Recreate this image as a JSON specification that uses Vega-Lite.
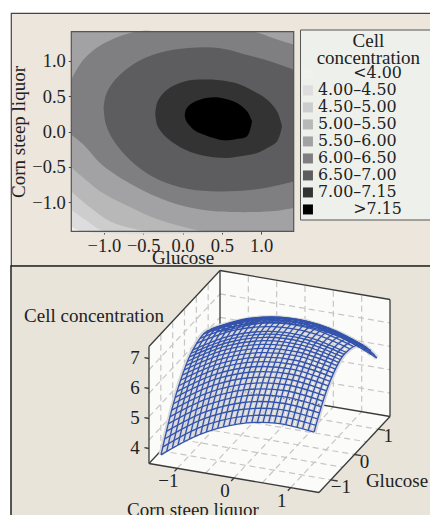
{"$schema":"https://vega.github.io/schema/vega-lite/v6.json","background":"white","padding":{"left":9,"top":12,"right":0,"bottom":0},"autosize":{"type":"pad"},"spacing":0,"bounds":"flush","config":{"font":"Liberation Serif","text":{"font":"Liberation Serif","color":"#222"},"axis":{"labelColor":"#222","titleColor":"#222","labelFont":"Liberation Serif","titleFont":"Liberation Serif"},"legend":{"labelColor":"#222","titleColor":"#222"}},
"datasets":{
"walls":[
{"wall":"left","c":-1.5,"g":-1.5,"z":3.5,"c2":-1.5,"g2":-1.5,"z2":7.4},{"wall":"left","c":-1.5,"g":1.5,"z":3.5,"c2":-1.5,"g2":1.5,"z2":7.4},
{"wall":"back","c":-1.5,"g":1.5,"z":3.5,"c2":-1.5,"g2":1.5,"z2":7.4},{"wall":"back","c":1.5,"g":1.5,"z":3.5,"c2":1.5,"g2":1.5,"z2":7.4},
{"wall":"floor","c":-1.5,"g":-1.5,"z":3.5,"c2":-1.5,"g2":-1.5,"z2":3.5},{"wall":"floor","c":-0.25,"g":-1.5,"z":3.5,"c2":-1.5,"g2":1.5,"z2":3.5},{"wall":"floor","c":1.5,"g":-1.5,"z":3.5,"c2":0.25,"g2":1.5,"z2":3.5},{"wall":"floor","c":1.5,"g":1.5,"z":3.5,"c2":1.5,"g2":1.5,"z2":3.5}],
"grid":[
{"c":-1.5,"g":-1,"z":3.5,"c2":-1.5,"g2":-1,"z2":7.4},{"c":-1.5,"g":-0.5,"z":3.5,"c2":-1.5,"g2":-0.5,"z2":7.4},{"c":-1.5,"g":0,"z":3.5,"c2":-1.5,"g2":0,"z2":7.4},{"c":-1.5,"g":0.5,"z":3.5,"c2":-1.5,"g2":0.5,"z2":7.4},{"c":-1.5,"g":1,"z":3.5,"c2":-1.5,"g2":1,"z2":7.4},
{"c":-1.5,"g":-1.5,"z":4.28,"c2":-1.5,"g2":1.5,"z2":4.28},{"c":-1.5,"g":-1.5,"z":5.06,"c2":-1.5,"g2":1.5,"z2":5.06},{"c":-1.5,"g":-1.5,"z":5.84,"c2":-1.5,"g2":1.5,"z2":5.84},{"c":-1.5,"g":-1.5,"z":6.62,"c2":-1.5,"g2":1.5,"z2":6.62},
{"c":-1,"g":1.5,"z":3.5,"c2":-1,"g2":1.5,"z2":7.4},{"c":-0.5,"g":1.5,"z":3.5,"c2":-0.5,"g2":1.5,"z2":7.4},{"c":0,"g":1.5,"z":3.5,"c2":0,"g2":1.5,"z2":7.4},{"c":0.5,"g":1.5,"z":3.5,"c2":0.5,"g2":1.5,"z2":7.4},{"c":1,"g":1.5,"z":3.5,"c2":1,"g2":1.5,"z2":7.4},
{"c":-1.5,"g":1.5,"z":4.28,"c2":1.5,"g2":1.5,"z2":4.28},{"c":-1.5,"g":1.5,"z":5.06,"c2":1.5,"g2":1.5,"z2":5.06},{"c":-1.5,"g":1.5,"z":5.84,"c2":1.5,"g2":1.5,"z2":5.84},{"c":-1.5,"g":1.5,"z":6.62,"c2":1.5,"g2":1.5,"z2":6.62},
{"c":-1,"g":-1.5,"z":3.5,"c2":-1,"g2":1.5,"z2":3.5},{"c":-0.5,"g":-1.5,"z":3.5,"c2":-0.5,"g2":1.5,"z2":3.5},{"c":0,"g":-1.5,"z":3.5,"c2":0,"g2":1.5,"z2":3.5},{"c":0.5,"g":-1.5,"z":3.5,"c2":0.5,"g2":1.5,"z2":3.5},{"c":1,"g":-1.5,"z":3.5,"c2":1,"g2":1.5,"z2":3.5},
{"c":-1.5,"g":-1,"z":3.5,"c2":1.5,"g2":-1,"z2":3.5},{"c":-1.5,"g":-0.5,"z":3.5,"c2":1.5,"g2":-0.5,"z2":3.5},{"c":-1.5,"g":0,"z":3.5,"c2":1.5,"g2":0,"z2":3.5},{"c":-1.5,"g":0.5,"z":3.5,"c2":1.5,"g2":0.5,"z2":3.5},{"c":-1.5,"g":1,"z":3.5,"c2":1.5,"g2":1,"z2":3.5}],
"box":[
{"c":-1.5,"g":1.5,"z":3.5,"c2":-1.5,"g2":1.5,"z2":7.4},{"c":1.5,"g":1.5,"z":3.5,"c2":1.5,"g2":1.5,"z2":7.4},{"c":-1.5,"g":-1.5,"z":3.5,"c2":-1.5,"g2":-1.5,"z2":7.4},
{"c":-1.5,"g":1.5,"z":3.5,"c2":1.5,"g2":1.5,"z2":3.5},{"c":-1.5,"g":1.5,"z":7.4,"c2":1.5,"g2":1.5,"z2":7.4},{"c":-1.5,"g":-1.5,"z":7.4,"c2":-1.5,"g2":1.5,"z2":7.4},{"c":-1.5,"g":-1.5,"z":3.5,"c2":-1.5,"g2":1.5,"z2":3.5},
{"c":-1.5,"g":-1.5,"z":3.5,"c2":1.5,"g2":-1.5,"z2":3.5},{"c":1.5,"g":-1.5,"z":3.5,"c2":1.5,"g2":1.5,"z2":3.5},
{"c":-1.5,"g":-1.5,"z":4,"c2":-1.58,"g2":-1.5,"z2":4},{"c":-1.5,"g":-1.5,"z":5,"c2":-1.58,"g2":-1.5,"z2":5},{"c":-1.5,"g":-1.5,"z":6,"c2":-1.58,"g2":-1.5,"z2":6},{"c":-1.5,"g":-1.5,"z":7,"c2":-1.58,"g2":-1.5,"z2":7},
{"c":-1,"g":-1.5,"z":3.5,"c2":-1,"g2":-1.62,"z2":3.5},{"c":0,"g":-1.5,"z":3.5,"c2":0,"g2":-1.62,"z2":3.5},{"c":1,"g":-1.5,"z":3.5,"c2":1,"g2":-1.62,"z2":3.5},
{"c":1.5,"g":-1,"z":3.5,"c2":1.62,"g2":-1,"z2":3.5},{"c":1.5,"g":0,"z":3.5,"c2":1.62,"g2":0,"z2":3.5},{"c":1.5,"g":1,"z":3.5,"c2":1.62,"g2":1,"z2":3.5}],
"mesh":[
{"line":"g0","c":-1.35,"g":-1.35,"z":3.71},{"line":"g0","c":-0.675,"g":-1.35,"z":4.6},{"line":"g0","c":0,"g":-1.35,"z":5.17},{"line":"g0","c":0.675,"g":-1.35,"z":5.42},{"line":"g0","c":1.35,"g":-1.35,"z":5.34},
{"line":"h0","c":-1.35,"g":-1.275,"z":3.91},{"line":"h0","c":-0.675,"g":-1.275,"z":4.8},{"line":"h0","c":0,"g":-1.275,"z":5.35},{"line":"h0","c":0.675,"g":-1.275,"z":5.59},{"line":"h0","c":1.35,"g":-1.275,"z":5.5},
{"line":"g1","c":-1.35,"g":-1.2,"z":4.11},{"line":"g1","c":-0.675,"g":-1.2,"z":4.99},{"line":"g1","c":0,"g":-1.2,"z":5.53},{"line":"g1","c":0.675,"g":-1.2,"z":5.75},{"line":"g1","c":1.35,"g":-1.2,"z":5.65},
{"line":"h1","c":-1.35,"g":-1.125,"z":4.3},{"line":"h1","c":-0.675,"g":-1.125,"z":5.16},{"line":"h1","c":0,"g":-1.125,"z":5.7},{"line":"h1","c":0.675,"g":-1.125,"z":5.9},{"line":"h1","c":1.35,"g":-1.125,"z":5.79},
{"line":"g2","c":-1.35,"g":-1.05,"z":4.49},{"line":"g2","c":-0.675,"g":-1.05,"z":5.33},{"line":"g2","c":0,"g":-1.05,"z":5.86},{"line":"g2","c":0.675,"g":-1.05,"z":6.05},{"line":"g2","c":1.35,"g":-1.05,"z":5.93},
{"line":"h2","c":-1.35,"g":-0.975,"z":4.66},{"line":"h2","c":-0.675,"g":-0.975,"z":5.49},{"line":"h2","c":0,"g":-0.975,"z":6},{"line":"h2","c":0.675,"g":-0.975,"z":6.19},{"line":"h2","c":1.35,"g":-0.975,"z":6.05},
{"line":"g3","c":-1.35,"g":-0.9,"z":4.82},{"line":"g3","c":-0.675,"g":-0.9,"z":5.64},{"line":"g3","c":0,"g":-0.9,"z":6.14},{"line":"g3","c":0.675,"g":-0.9,"z":6.32},{"line":"g3","c":1.35,"g":-0.9,"z":6.17},
{"line":"h3","c":-1.35,"g":-0.825,"z":4.97},{"line":"h3","c":-0.675,"g":-0.825,"z":5.78},{"line":"h3","c":0,"g":-0.825,"z":6.27},{"line":"h3","c":0.675,"g":-0.825,"z":6.44},{"line":"h3","c":1.35,"g":-0.825,"z":6.27},
{"line":"g4","c":-1.35,"g":-0.75,"z":5.12},{"line":"g4","c":-0.675,"g":-0.75,"z":5.92},{"line":"g4","c":0,"g":-0.75,"z":6.4},{"line":"g4","c":0.675,"g":-0.75,"z":6.55},{"line":"g4","c":1.35,"g":-0.75,"z":6.37},
{"line":"h4","c":-1.35,"g":-0.675,"z":5.25},{"line":"h4","c":-0.675,"g":-0.675,"z":6.04},{"line":"h4","c":0,"g":-0.675,"z":6.51},{"line":"h4","c":0.675,"g":-0.675,"z":6.65},{"line":"h4","c":1.35,"g":-0.675,"z":6.46},
{"line":"g5","c":-1.35,"g":-0.6,"z":5.38},{"line":"g5","c":-0.675,"g":-0.6,"z":6.16},{"line":"g5","c":0,"g":-0.6,"z":6.61},{"line":"g5","c":0.675,"g":-0.6,"z":6.74},{"line":"g5","c":1.35,"g":-0.6,"z":6.54},
{"line":"h5","c":-1.35,"g":-0.525,"z":5.5},{"line":"h5","c":-0.675,"g":-0.525,"z":6.26},{"line":"h5","c":0,"g":-0.525,"z":6.7},{"line":"h5","c":0.675,"g":-0.525,"z":6.82},{"line":"h5","c":1.35,"g":-0.525,"z":6.61},
{"line":"g6","c":-1.35,"g":-0.45,"z":5.61},{"line":"g6","c":-0.675,"g":-0.45,"z":6.36},{"line":"g6","c":0,"g":-0.45,"z":6.79},{"line":"g6","c":0.675,"g":-0.45,"z":6.9},{"line":"g6","c":1.35,"g":-0.45,"z":6.68},
{"line":"h6","c":-1.35,"g":-0.375,"z":5.71},{"line":"h6","c":-0.675,"g":-0.375,"z":6.45},{"line":"h6","c":0,"g":-0.375,"z":6.87},{"line":"h6","c":0.675,"g":-0.375,"z":6.96},{"line":"h6","c":1.35,"g":-0.375,"z":6.73},
{"line":"g7","c":-1.35,"g":-0.3,"z":5.8},{"line":"g7","c":-0.675,"g":-0.3,"z":6.53},{"line":"g7","c":0,"g":-0.3,"z":6.94},{"line":"g7","c":0.675,"g":-0.3,"z":7.02},{"line":"g7","c":1.35,"g":-0.3,"z":6.77},
{"line":"h7","c":-1.35,"g":-0.225,"z":5.88},{"line":"h7","c":-0.675,"g":-0.225,"z":6.6},{"line":"h7","c":0,"g":-0.225,"z":7},{"line":"h7","c":0.675,"g":-0.225,"z":7.06},{"line":"h7","c":1.35,"g":-0.225,"z":6.8},
{"line":"g8","c":-1.35,"g":-0.15,"z":5.96},{"line":"g8","c":-0.675,"g":-0.15,"z":6.66},{"line":"g8","c":0,"g":-0.15,"z":7.05},{"line":"g8","c":0.675,"g":-0.15,"z":7.1},{"line":"g8","c":1.35,"g":-0.15,"z":6.83},
{"line":"h8","c":-1.35,"g":-0.075,"z":6.02},{"line":"h8","c":-0.675,"g":-0.075,"z":6.71},{"line":"h8","c":0,"g":-0.075,"z":7.09},{"line":"h8","c":0.675,"g":-0.075,"z":7.13},{"line":"h8","c":1.35,"g":-0.075,"z":6.85},
{"line":"g9","c":-1.35,"g":0,"z":6.07},{"line":"g9","c":-0.675,"g":0,"z":6.76},{"line":"g9","c":0,"g":0,"z":7.12},{"line":"g9","c":0.675,"g":0,"z":7.15},{"line":"g9","c":1.35,"g":0,"z":6.86},
{"line":"g10","c":-1.35,"g":0.15,"z":6.16},{"line":"g10","c":-0.675,"g":0.15,"z":6.82},{"line":"g10","c":0,"g":0.15,"z":7.15},{"line":"g10","c":0.675,"g":0.15,"z":7.16},{"line":"g10","c":1.35,"g":0.15,"z":6.85},
{"line":"g11","c":-1.35,"g":0.3,"z":6.2},{"line":"g11","c":-0.675,"g":0.3,"z":6.84},{"line":"g11","c":0,"g":0.3,"z":7.15},{"line":"g11","c":0.675,"g":0.3,"z":7.14},{"line":"g11","c":1.35,"g":0.3,"z":6.8},
{"line":"g12","c":-1.35,"g":0.45,"z":6.22},{"line":"g12","c":-0.675,"g":0.45,"z":6.83},{"line":"g12","c":0,"g":0.45,"z":7.12},{"line":"g12","c":0.675,"g":0.45,"z":7.08},{"line":"g12","c":1.35,"g":0.45,"z":6.72},
{"line":"g13","c":-1.35,"g":0.6,"z":6.19},{"line":"g13","c":-0.675,"g":0.6,"z":6.78},{"line":"g13","c":0,"g":0.6,"z":7.05},{"line":"g13","c":0.675,"g":0.6,"z":6.99},{"line":"g13","c":1.35,"g":0.6,"z":6.6},
{"line":"g14","c":-1.35,"g":0.75,"z":6.13},{"line":"g14","c":-0.675,"g":0.75,"z":6.7},{"line":"g14","c":0,"g":0.75,"z":6.94},{"line":"g14","c":0.675,"g":0.75,"z":6.85},{"line":"g14","c":1.35,"g":0.75,"z":6.45},
{"line":"g15","c":-1.35,"g":0.9,"z":6.03},{"line":"g15","c":-0.675,"g":0.9,"z":6.58},{"line":"g15","c":0,"g":0.9,"z":6.79},{"line":"g15","c":0.675,"g":0.9,"z":6.69},{"line":"g15","c":1.35,"g":0.9,"z":6.25},
{"line":"g16","c":-1.35,"g":1.05,"z":5.9},{"line":"g16","c":-0.675,"g":1.05,"z":6.42},{"line":"g16","c":0,"g":1.05,"z":6.62},{"line":"g16","c":0.675,"g":1.05,"z":6.48},{"line":"g16","c":1.35,"g":1.05,"z":6.03},
{"line":"g17","c":-1.35,"g":1.2,"z":5.73},{"line":"g17","c":-0.675,"g":1.2,"z":6.23},{"line":"g17","c":0,"g":1.2,"z":6.4},{"line":"g17","c":0.675,"g":1.2,"z":6.24},{"line":"g17","c":1.35,"g":1.2,"z":5.76},
{"line":"g18","c":-1.35,"g":1.3,"z":5.6},{"line":"g18","c":-0.675,"g":1.3,"z":6.08},{"line":"g18","c":0,"g":1.3,"z":6.23},{"line":"g18","c":0.675,"g":1.3,"z":6.07},{"line":"g18","c":1.35,"g":1.3,"z":5.57},
{"line":"c0","c":-1.35,"g":-1.35,"z":3.71},{"line":"c0","c":-1.35,"g":-0.7,"z":5.21},{"line":"c0","c":-1.35,"g":-0.05,"z":6.04},{"line":"c0","c":-1.35,"g":0.6,"z":6.19},{"line":"c0","c":-1.35,"g":1.3,"z":5.6},
{"line":"c1","c":-1.25,"g":-1.35,"z":3.86},{"line":"c1","c":-1.25,"g":-0.7,"z":5.35},{"line":"c1","c":-1.25,"g":-0.05,"z":6.16},{"line":"c1","c":-1.25,"g":0.6,"z":6.3},{"line":"c1","c":-1.25,"g":1.3,"z":5.69},
{"line":"c2","c":-1.15,"g":-1.35,"z":4.01},{"line":"c2","c":-1.15,"g":-0.7,"z":5.48},{"line":"c2","c":-1.15,"g":-0.05,"z":6.28},{"line":"c2","c":-1.15,"g":0.6,"z":6.4},{"line":"c2","c":-1.15,"g":1.3,"z":5.78},
{"line":"c3","c":-1.05,"g":-1.35,"z":4.14},{"line":"c3","c":-1.05,"g":-0.7,"z":5.6},{"line":"c3","c":-1.05,"g":-0.05,"z":6.39},{"line":"c3","c":-1.05,"g":0.6,"z":6.49},{"line":"c3","c":-1.05,"g":1.3,"z":5.85},
{"line":"c4","c":-0.95,"g":-1.35,"z":4.28},{"line":"c4","c":-0.95,"g":-0.7,"z":5.72},{"line":"c4","c":-0.95,"g":-0.05,"z":6.49},{"line":"c4","c":-0.95,"g":0.6,"z":6.58},{"line":"c4","c":-0.95,"g":1.3,"z":5.92},
{"line":"c5","c":-0.85,"g":-1.35,"z":4.4},{"line":"c5","c":-0.85,"g":-0.7,"z":5.83},{"line":"c5","c":-0.85,"g":-0.05,"z":6.58},{"line":"c5","c":-0.85,"g":0.6,"z":6.66},{"line":"c5","c":-0.85,"g":1.3,"z":5.99},
{"line":"c6","c":-0.75,"g":-1.35,"z":4.52},{"line":"c6","c":-0.75,"g":-0.7,"z":5.93},{"line":"c6","c":-0.75,"g":-0.05,"z":6.67},{"line":"c6","c":-0.75,"g":0.6,"z":6.73},{"line":"c6","c":-0.75,"g":1.3,"z":6.04},
{"line":"c7","c":-0.65,"g":-1.35,"z":4.63},{"line":"c7","c":-0.65,"g":-0.7,"z":6.03},{"line":"c7","c":-0.65,"g":-0.05,"z":6.75},{"line":"c7","c":-0.65,"g":0.6,"z":6.8},{"line":"c7","c":-0.65,"g":1.3,"z":6.09},
{"line":"c8","c":-0.55,"g":-1.35,"z":4.73},{"line":"c8","c":-0.55,"g":-0.7,"z":6.12},{"line":"c8","c":-0.55,"g":-0.05,"z":6.82},{"line":"c8","c":-0.55,"g":0.6,"z":6.86},{"line":"c8","c":-0.55,"g":1.3,"z":6.13},
{"line":"c9","c":-0.45,"g":-1.35,"z":4.83},{"line":"c9","c":-0.45,"g":-0.7,"z":6.2},{"line":"c9","c":-0.45,"g":-0.05,"z":6.89},{"line":"c9","c":-0.45,"g":0.6,"z":6.91},{"line":"c9","c":-0.45,"g":1.3,"z":6.17},
{"line":"c10","c":-0.35,"g":-1.35,"z":4.92},{"line":"c10","c":-0.35,"g":-0.7,"z":6.27},{"line":"c10","c":-0.35,"g":-0.05,"z":6.95},{"line":"c10","c":-0.35,"g":0.6,"z":6.95},{"line":"c10","c":-0.35,"g":1.3,"z":6.2},
{"line":"c11","c":-0.25,"g":-1.35,"z":5},{"line":"c11","c":-0.25,"g":-0.7,"z":6.34},{"line":"c11","c":-0.25,"g":-0.05,"z":7},{"line":"c11","c":-0.25,"g":0.6,"z":6.99},{"line":"c11","c":-0.25,"g":1.3,"z":6.22},
{"line":"c12","c":-0.15,"g":-1.35,"z":5.07},{"line":"c12","c":-0.15,"g":-0.7,"z":6.4},{"line":"c12","c":-0.15,"g":-0.05,"z":7.05},{"line":"c12","c":-0.15,"g":0.6,"z":7.02},{"line":"c12","c":-0.15,"g":1.3,"z":6.23},
{"line":"c13","c":-0.05,"g":-1.35,"z":5.14},{"line":"c13","c":-0.05,"g":-0.7,"z":6.45},{"line":"c13","c":-0.05,"g":-0.05,"z":7.08},{"line":"c13","c":-0.05,"g":0.6,"z":7.04},{"line":"c13","c":-0.05,"g":1.3,"z":6.23},
{"line":"c14","c":0.05,"g":-1.35,"z":5.2},{"line":"c14","c":0.05,"g":-0.7,"z":6.5},{"line":"c14","c":0.05,"g":-0.05,"z":7.11},{"line":"c14","c":0.05,"g":0.6,"z":7.05},{"line":"c14","c":0.05,"g":1.3,"z":6.23},
{"line":"c15","c":0.15,"g":-1.35,"z":5.26},{"line":"c15","c":0.15,"g":-0.7,"z":6.53},{"line":"c15","c":0.15,"g":-0.05,"z":7.14},{"line":"c15","c":0.15,"g":0.6,"z":7.06},{"line":"c15","c":0.15,"g":1.3,"z":6.23},
{"line":"c16","c":0.25,"g":-1.35,"z":5.3},{"line":"c16","c":0.25,"g":-0.7,"z":6.56},{"line":"c16","c":0.25,"g":-0.05,"z":7.15},{"line":"c16","c":0.25,"g":0.6,"z":7.06},{"line":"c16","c":0.25,"g":1.3,"z":6.21},
{"line":"c17","c":0.35,"g":-1.35,"z":5.34},{"line":"c17","c":0.35,"g":-0.7,"z":6.59},{"line":"c17","c":0.35,"g":-0.05,"z":7.16},{"line":"c17","c":0.35,"g":0.6,"z":7.06},{"line":"c17","c":0.35,"g":1.3,"z":6.19},
{"line":"c18","c":0.45,"g":-1.35,"z":5.37},{"line":"c18","c":0.45,"g":-0.7,"z":6.6},{"line":"c18","c":0.45,"g":-0.05,"z":7.16},{"line":"c18","c":0.45,"g":0.6,"z":7.04},{"line":"c18","c":0.45,"g":1.3,"z":6.16},
{"line":"c19","c":0.55,"g":-1.35,"z":5.4},{"line":"c19","c":0.55,"g":-0.7,"z":6.62},{"line":"c19","c":0.55,"g":-0.05,"z":7.16},{"line":"c19","c":0.55,"g":0.6,"z":7.02},{"line":"c19","c":0.55,"g":1.3,"z":6.12},
{"line":"c20","c":0.65,"g":-1.35,"z":5.41},{"line":"c20","c":0.65,"g":-0.7,"z":6.62},{"line":"c20","c":0.65,"g":-0.05,"z":7.14},{"line":"c20","c":0.65,"g":0.6,"z":6.99},{"line":"c20","c":0.65,"g":1.3,"z":6.08},
{"line":"c21","c":0.75,"g":-1.35,"z":5.43},{"line":"c21","c":0.75,"g":-0.7,"z":6.61},{"line":"c21","c":0.75,"g":-0.05,"z":7.12},{"line":"c21","c":0.75,"g":0.6,"z":6.96},{"line":"c21","c":0.75,"g":1.3,"z":6.03},
{"line":"c22","c":0.85,"g":-1.35,"z":5.43},{"line":"c22","c":0.85,"g":-0.7,"z":6.6},{"line":"c22","c":0.85,"g":-0.05,"z":7.1},{"line":"c22","c":0.85,"g":0.6,"z":6.92},{"line":"c22","c":0.85,"g":1.3,"z":5.97},
{"line":"c23","c":0.95,"g":-1.35,"z":5.42},{"line":"c23","c":0.95,"g":-0.7,"z":6.58},{"line":"c23","c":0.95,"g":-0.05,"z":7.06},{"line":"c23","c":0.95,"g":0.6,"z":6.87},{"line":"c23","c":0.95,"g":1.3,"z":5.9},
{"line":"c24","c":1.05,"g":-1.35,"z":5.41},{"line":"c24","c":1.05,"g":-0.7,"z":6.56},{"line":"c24","c":1.05,"g":-0.05,"z":7.02},{"line":"c24","c":1.05,"g":0.6,"z":6.81},{"line":"c24","c":1.05,"g":1.3,"z":5.83},
{"line":"c25","c":1.15,"g":-1.35,"z":5.4},{"line":"c25","c":1.15,"g":-0.7,"z":6.52},{"line":"c25","c":1.15,"g":-0.05,"z":6.97},{"line":"c25","c":1.15,"g":0.6,"z":6.75},{"line":"c25","c":1.15,"g":1.3,"z":5.75},
{"line":"c26","c":1.25,"g":-1.35,"z":5.37},{"line":"c26","c":1.25,"g":-0.7,"z":6.48},{"line":"c26","c":1.25,"g":-0.05,"z":6.92},{"line":"c26","c":1.25,"g":0.6,"z":6.68},{"line":"c26","c":1.25,"g":1.3,"z":5.66},
{"line":"c27","c":1.35,"g":-1.35,"z":5.34},{"line":"c27","c":1.35,"g":-0.7,"z":6.43},{"line":"c27","c":1.35,"g":-0.05,"z":6.86},{"line":"c27","c":1.35,"g":0.6,"z":6.6},{"line":"c27","c":1.35,"g":1.3,"z":5.57}]
},
"vconcat":[
{"width":421,"height":253,"view":{"fill":"#ece6dd","stroke":"#444","strokeWidth":1.2},
"layer":[
{"data":{"values":[
{"level":"<4.00","glucose":-1.414,"hi":1.414,"lo":-1.414},{"level":"<4.00","glucose":1.414,"hi":1.414,"lo":-1.414},
{"level":"4.00–4.50","glucose":-1.414,"hi":1.414,"lo":-1.345},{"level":"4.00–4.50","glucose":-1.279,"hi":1.414,"lo":-1.414},{"level":"4.00–4.50","glucose":1.414,"hi":1.414,"lo":-1.414},
{"level":"4.50–5.00","glucose":-1.414,"hi":1.414,"lo":-1.109},{"level":"4.50–5.00","glucose":-1.236,"hi":1.414,"lo":-1.251},{"level":"4.50–5.00","glucose":-1.045,"hi":1.414,"lo":-1.392},{"level":"4.50–5.00","glucose":-0.939,"hi":1.414,"lo":-1.414},{"level":"4.50–5.00","glucose":1.414,"hi":1.414,"lo":-1.414},
{"level":"5.00–5.50","glucose":-1.414,"hi":1.414,"lo":-0.849},{"level":"5.00–5.50","glucose":-1.173,"hi":1.414,"lo":-1.076},{"level":"5.00–5.50","glucose":-0.918,"hi":1.414,"lo":-1.274},{"level":"5.00–5.50","glucose":-0.6,"hi":1.414,"lo":-1.383},{"level":"5.00–5.50","glucose":-0.367,"hi":1.414,"lo":-1.414},{"level":"5.00–5.50","glucose":1.414,"hi":1.414,"lo":-1.414},
{"level":"5.50–6.00","glucose":-1.414,"hi":1.414,"lo":-0.508},{"level":"5.50–6.00","glucose":-1.045,"hi":1.414,"lo":-0.849},{"level":"5.50–6.00","glucose":-0.727,"hi":1.414,"lo":-1.038},{"level":"5.50–6.00","glucose":-0.409,"hi":1.414,"lo":-1.203},{"level":"5.50–6.00","glucose":-0.091,"hi":1.414,"lo":-1.321},{"level":"5.50–6.00","glucose":0.227,"hi":1.414,"lo":-1.407},{"level":"5.50–6.00","glucose":0.333,"hi":1.414,"lo":-1.414},{"level":"5.50–6.00","glucose":1.414,"hi":1.414,"lo":-1.414},
{"level":"6.00–6.50","glucose":-1.414,"hi":0.735,"lo":-0.045},{"level":"6.00–6.50","glucose":-1.257,"hi":1.019,"lo":-0.187},{"level":"6.00–6.50","glucose":-1.024,"hi":1.232,"lo":-0.47},{"level":"6.00–6.50","glucose":-0.6,"hi":1.414,"lo":-0.778},{"level":"6.00–6.50","glucose":-0.176,"hi":1.414,"lo":-0.991},{"level":"6.00–6.50","glucose":0.248,"hi":1.414,"lo":-1.109},{"level":"6.00–6.50","glucose":0.672,"hi":1.414,"lo":-1.142},{"level":"6.00–6.50","glucose":0.905,"hi":1.414,"lo":-1.142},{"level":"6.00–6.50","glucose":1.202,"hi":1.303,"lo":-1.123},{"level":"6.00–6.50","glucose":1.414,"hi":1.232,"lo":-1.085},
{"level":"6.50–7.00","glucose":-1.003,"hi":0.333,"lo":0.333},{"level":"6.50–7.00","glucose":-0.973,"hi":0.522,"lo":0.097},{"level":"6.50–7.00","glucose":-0.855,"hi":0.735,"lo":-0.163},{"level":"6.50–7.00","glucose":-0.6,"hi":0.972,"lo":-0.47},{"level":"6.50–7.00","glucose":-0.303,"hi":1.113,"lo":-0.683},{"level":"6.50–7.00","glucose":0.078,"hi":1.184,"lo":-0.816},{"level":"6.50–7.00","glucose":0.46,"hi":1.184,"lo":-0.849},{"level":"6.50–7.00","glucose":0.884,"hi":1.066,"lo":-0.825},{"level":"6.50–7.00","glucose":1.139,"hi":0.986,"lo":-0.778},{"level":"6.50–7.00","glucose":1.414,"hi":0.877,"lo":-0.707},
{"level":"7.00–7.15","glucose":-0.346,"hi":0.253,"lo":0.253},{"level":"7.00–7.15","glucose":-0.316,"hi":0.428,"lo":0.073},{"level":"7.00–7.15","glucose":-0.197,"hi":0.593,"lo":-0.092},{"level":"7.00–7.15","glucose":0.036,"hi":0.712,"lo":-0.258},{"level":"7.00–7.15","glucose":0.312,"hi":0.735,"lo":-0.352},{"level":"7.00–7.15","glucose":0.566,"hi":0.712,"lo":-0.376},{"level":"7.00–7.15","glucose":0.736,"hi":0.664,"lo":-0.352},{"level":"7.00–7.15","glucose":0.948,"hi":0.546,"lo":-0.305},{"level":"7.00–7.15","glucose":1.075,"hi":0.452,"lo":-0.234},{"level":"7.00–7.15","glucose":1.202,"hi":0.286,"lo":-0.14},{"level":"7.00–7.15","glucose":1.266,"hi":0.073,"lo":0.073},
{"level":">7.15","glucose":0.028,"hi":0.225,"lo":0.225},{"level":">7.15","glucose":0.049,"hi":0.324,"lo":0.144},{"level":">7.15","glucose":0.142,"hi":0.414,"lo":0.026},{"level":">7.15","glucose":0.248,"hi":0.461,"lo":-0.035},{"level":">7.15","glucose":0.397,"hi":0.485,"lo":-0.092},{"level":">7.15","glucose":0.524,"hi":0.466,"lo":-0.125},{"level":">7.15","glucose":0.693,"hi":0.404,"lo":-0.107},{"level":">7.15","glucose":0.821,"hi":0.286,"lo":-0.069},{"level":">7.15","glucose":0.884,"hi":0.144,"lo":0.144}
]},
"mark":{"type":"area","interpolate":"catmull-rom"},
"encoding":{
"x":{"field":"glucose","type":"quantitative","scale":{"domain":[-1.414,1.414],"range":[60.3,282.7],"nice":false,"zero":false},"axis":{"title":"Glucose","orient":"bottom","offset":-35,"values":[-1,-0.5,0,0.5,1],"format":".1f","grid":false,"domain":false,"ticks":true,"tickSize":3,"tickColor":"#444","labelFontSize":18.5,"labelPadding":2,"labelOverlap":false,"labelFlush":false,"labelBound":false,"titleFontSize":19,"titleFontWeight":"normal","titlePadding":-6}},
"y":{"field":"hi","type":"quantitative","scale":{"domain":[-1.414,1.414],"range":[218.3,18.7],"nice":false,"zero":false},"axis":{"title":"Corn steep liquor","orient":"left","offset":-60.3,"values":[-1,-0.5,0,0.5,1],"format":".1f","grid":false,"domain":false,"ticks":true,"tickSize":3,"tickColor":"#444","labelFontSize":18.5,"labelPadding":3,"labelOverlap":false,"labelFlush":false,"labelBound":false,"titleFontSize":19,"titleFontWeight":"normal","titlePadding":3}},
"y2":{"field":"lo"},
"fill":{"field":"level","type":"nominal","scale":{"domain":["<4.00","4.00–4.50","4.50–5.00","5.00–5.50","5.50–6.00","6.00–6.50","6.50–7.00","7.00–7.15",">7.15"],"range":["#f1f1ef","#dddddd","#cdcdcd","#b8b8b8","#a2a2a4","#7f7f81","#5d5d5f","#333333","#000000"]},
"legend":{"orient":"none","legendX":289,"legendY":16.5,"padding":2,"fillColor":"#eef0ec","strokeColor":"#555","title":["\u200b\u00a0\u00a0\u00a0Cell\u00a0\u00a0\u200b","\u200b\u00a0\u00a0\u00a0concentration\u00a0\u00a0\u200b"],"titleFontSize":19,"titleFontWeight":"normal","titleFont":"Liberation Serif","titleLineHeight":17,"titleAnchor":"middle","titleAlign":"center","titlePadding":-2,"titleLimit":200,"labelFont":"DejaVu Serif","labelFontSize":15.9,"labelLimit":200,"labelOffset":2,"symbolOffset":-4,"rowPadding":0,"symbolType":"square","symbolSize":100,"symbolStrokeWidth":0,"labelExpr":"(datum.label == '<4.00' || datum.label == '>7.15' ? '\u200b\u00a0\u00a0\u00a0\u00a0\u00a0\u00a0\u00a0' + datum.label : datum.label) + '\u00a0\u00a0\u00a0\u00a0\u00a0\u200b'"}}
}},
{"data":{"values":[{"x":-1.414,"x2":1.414,"y":-1.414,"y2":1.414}]},"mark":{"type":"rect","fill":null,"stroke":"#555","strokeWidth":1.2},"encoding":{"x":{"field":"x","type":"quantitative"},"x2":{"field":"x2"},"y":{"field":"y","type":"quantitative"},"y2":{"field":"y2"}}}
]},
{"width":421,"height":250,"view":{"fill":"#e9e4da","stroke":"#222","strokeWidth":1.5},
"encoding":{"x":{"field":"sx","type":"quantitative","scale":{"domain":[0,421],"range":[0,421],"nice":false,"zero":false},"axis":null},"y":{"field":"sy","type":"quantitative","scale":{"domain":[0,250],"range":[0,250],"nice":false,"zero":false},"axis":null}},
"layer":[
{"data":{"name":"walls"},"transform":[{"calculate":"258.5+56.67*datum.c+23.67*datum.g","as":"sx"},{"calculate":"174+9.67*datum.c-25.33*datum.g-30*(datum.z-3.5)","as":"sy"},{"calculate":"174+9.67*datum.c2-25.33*datum.g2-30*(datum.z2-3.5)","as":"sy2"}],"mark":{"type":"area","fill":"#fbfbf9"},"encoding":{"y2":{"field":"sy2"},"detail":{"field":"wall"}}},
{"data":{"name":"grid"},"transform":[{"calculate":"258.5+56.67*datum.c+23.67*datum.g","as":"sx"},{"calculate":"174+9.67*datum.c-25.33*datum.g-30*(datum.z-3.5)","as":"sy"},{"calculate":"258.5+56.67*datum.c2+23.67*datum.g2","as":"sx2"},{"calculate":"174+9.67*datum.c2-25.33*datum.g2-30*(datum.z2-3.5)","as":"sy2"}],"mark":{"type":"rule","stroke":"#c6c6c6","strokeWidth":1.2,"strokeDash":[6,4]},"encoding":{"x2":{"field":"sx2"},"y2":{"field":"sy2"}}},
{"data":{"name":"box"},"transform":[{"calculate":"258.5+56.67*datum.c+23.67*datum.g","as":"sx"},{"calculate":"174+9.67*datum.c-25.33*datum.g-30*(datum.z-3.5)","as":"sy"},{"calculate":"258.5+56.67*datum.c2+23.67*datum.g2","as":"sx2"},{"calculate":"174+9.67*datum.c2-25.33*datum.g2-30*(datum.z2-3.5)","as":"sy2"}],"mark":{"type":"rule","stroke":"#3a3a3a","strokeWidth":1.3},"encoding":{"x2":{"field":"sx2"},"y2":{"field":"sy2"}}},
{"data":{"name":"mesh"},"transform":[{"filter":"indexof(datum.line,'c')==0"},{"calculate":"258.5+56.67*datum.c+23.67*datum.g","as":"sx"},{"calculate":"174+9.67*datum.c-25.33*datum.g-30*(datum.z-3.5)","as":"sy"}],"mark":{"type":"line","interpolate":"catmull-rom","stroke":"#d9d9d9","strokeWidth":5},"encoding":{"detail":{"field":"line"}}},
{"data":{"name":"mesh"},"transform":[{"calculate":"258.5+56.67*datum.c+23.67*datum.g","as":"sx"},{"calculate":"174+9.67*datum.c-25.33*datum.g-30*(datum.z-3.5)","as":"sy"}],"mark":{"type":"line","interpolate":"catmull-rom","stroke":"#3353ad","strokeWidth":1.35},"encoding":{"detail":{"field":"line"}}},
{"data":{"values":[{"c":-1.5,"g":-1.5,"z":4,"t":"4"},{"c":-1.5,"g":-1.5,"z":5,"t":"5"},{"c":-1.5,"g":-1.5,"z":6,"t":"6"},{"c":-1.5,"g":-1.5,"z":7,"t":"7"}]},"transform":[{"calculate":"258.5+56.67*datum.c+23.67*datum.g","as":"sx"},{"calculate":"174+9.67*datum.c-25.33*datum.g-30*(datum.z-3.5)","as":"sy"}],"mark":{"type":"text","fontSize":19,"dx":-14,"align":"center","baseline":"middle"},"encoding":{"text":{"field":"t"}}},
{"data":{"values":[{"c":-1,"g":-1.5,"z":3.5,"t":"−1"},{"c":0,"g":-1.5,"z":3.5,"t":"0"},{"c":1,"g":-1.5,"z":3.5,"t":"1"}]},"transform":[{"calculate":"258.5+56.67*datum.c+23.67*datum.g","as":"sx"},{"calculate":"174+9.67*datum.c-25.33*datum.g-30*(datum.z-3.5)","as":"sy"}],"mark":{"type":"text","fontSize":19,"dx":-9,"dy":13,"align":"center","baseline":"middle"},"encoding":{"text":{"field":"t"}}},
{"data":{"values":[{"c":1.5,"g":-1,"z":3.5,"t":"−1"},{"c":1.5,"g":0,"z":3.5,"t":"0"},{"c":1.5,"g":1,"z":3.5,"t":"1"}]},"transform":[{"calculate":"258.5+56.67*datum.c+23.67*datum.g","as":"sx"},{"calculate":"174+9.67*datum.c-25.33*datum.g-30*(datum.z-3.5)","as":"sy"}],"mark":{"type":"text","fontSize":19,"dx":10,"dy":7,"align":"center","baseline":"middle"},"encoding":{"text":{"field":"t"}}},
{"data":{"values":[{"c":-1.5,"g":-1.5,"z":7.4,"t":"Cell concentration"}]},"transform":[{"calculate":"258.5+56.67*datum.c+23.67*datum.g","as":"sx"},{"calculate":"174+9.67*datum.c-25.33*datum.g-30*(datum.z-3.5)","as":"sy"}],"mark":{"type":"text","fontSize":19,"dx":-55,"dy":-30,"align":"center","baseline":"middle"},"encoding":{"text":{"field":"t"}}},
{"data":{"values":[{"c":0,"g":-1.5,"z":3.5,"t":"Corn steep liquor"}]},"transform":[{"calculate":"258.5+56.67*datum.c+23.67*datum.g","as":"sx"},{"calculate":"174+9.67*datum.c-25.33*datum.g-30*(datum.z-3.5)","as":"sy"}],"mark":{"type":"text","fontSize":19,"dx":-41,"dy":32,"align":"center","baseline":"middle"},"encoding":{"text":{"field":"t"}}},
{"data":{"values":[{"c":1.5,"g":0,"z":3.5,"t":"Glucose"}]},"transform":[{"calculate":"258.5+56.67*datum.c+23.67*datum.g","as":"sx"},{"calculate":"174+9.67*datum.c-25.33*datum.g-30*(datum.z-3.5)","as":"sy"}],"mark":{"type":"text","fontSize":19,"dx":42.5,"dy":26.5,"align":"center","baseline":"middle"},"encoding":{"text":{"field":"t"}}}
]}
]}
